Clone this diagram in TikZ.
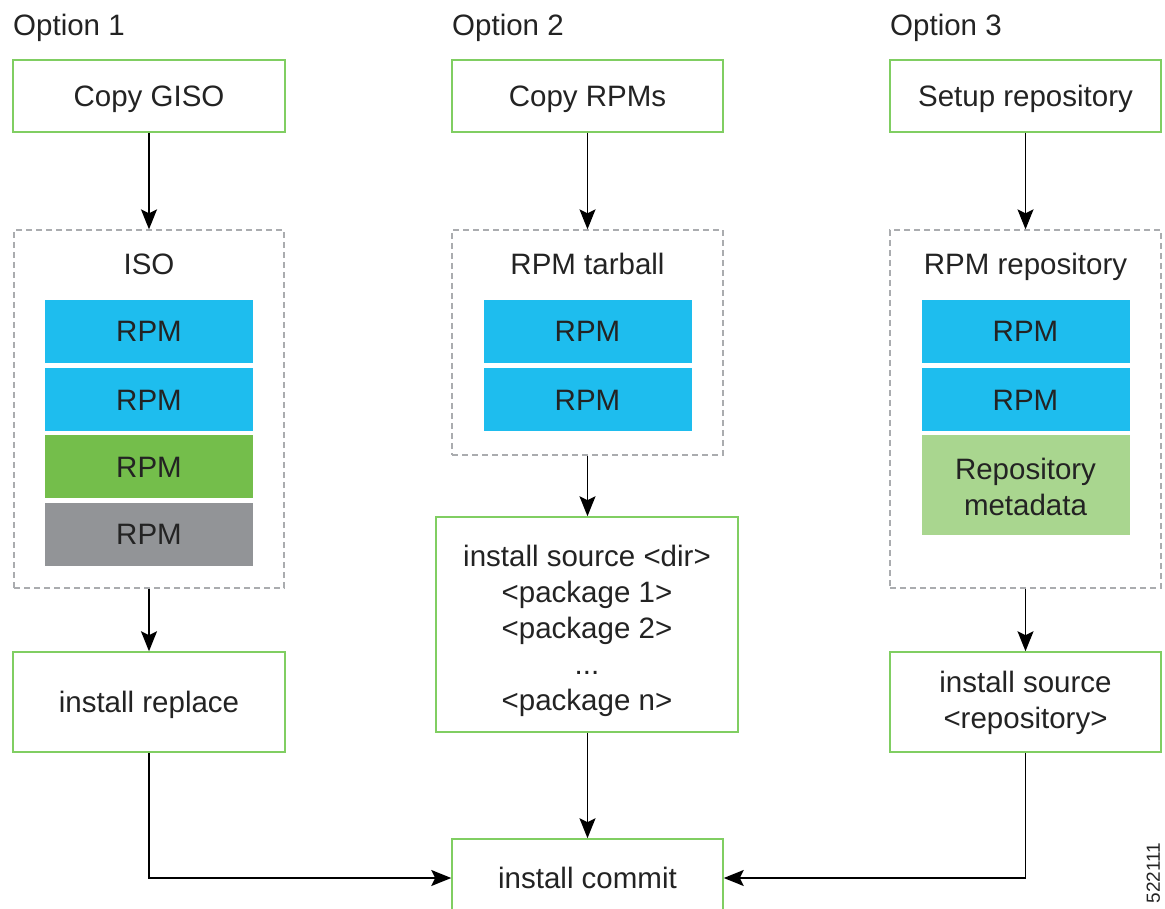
\documentclass[tikz,border=0pt]{standalone}
\usepackage{fontspec}
\setmainfont{Liberation Sans}
\usetikzlibrary{arrows.meta}
\definecolor{boxgreen}{RGB}{128,206,98}
\definecolor{rpmblue}{RGB}{30,189,238}
\definecolor{rpmgreen}{RGB}{116,190,75}
\definecolor{rpmgray}{RGB}{146,148,151}
\definecolor{metagreen}{RGB}{169,214,143}
\definecolor{dashgray}{RGB}{170,172,175}
\definecolor{txt}{RGB}{35,35,35}
\begin{document}
\begin{tikzpicture}[x=1pt,y=-1pt,
  every node/.style={inner sep=0pt, align=center, text=txt, font=\fontsize{29.5}{36}\selectfont, text height=21pt, text depth=0pt},
  stepbox/.style={draw=boxgreen, line width=1.5pt, fill=white},
  groupbox/.style={draw=dashgray, line width=1.3pt, dash pattern=on 6pt off 4pt},
  rpmbox/.style={minimum width=208pt, minimum height=63pt},
  arr/.style={-{Stealth[length=20pt,width=16pt,inset=4pt]}, line width=1.7pt, black},
  lbl/.style={anchor=base west}
]
\useasboundingbox (0,0) rectangle (1165,909);
\clip (0,0) rectangle (1165,909);

% Option labels
\node[lbl] (o1) at (13,35.5) {Option 1};
\node[lbl] (o2) at (452,35.5) {Option 2};
\node[lbl] (o3) at (890,35.5) {Option 3};

% Column 1
\node[stepbox, minimum width=272pt, minimum height=72pt] (copyg) at (149,96) {Copy GISO};
\node[groupbox, minimum width=270pt, minimum height=358pt] (iso) at (149,409) {};
\node (isolbl) at (149,264) {ISO};
\node[rpmbox, fill=rpmblue] (r11) at (149,331.5) {RPM};
\node[rpmbox, fill=rpmblue] (r12) at (149,399.5) {RPM};
\node[rpmbox, fill=rpmgreen] (r13) at (149,466.5) {RPM};
\node[rpmbox, fill=rpmgray] (r14) at (149,534) {RPM};
\node[stepbox, minimum width=272pt, minimum height=100pt] (repl) at (149,702) {install replace};

% Column 2
\node[stepbox, minimum width=271pt, minimum height=72pt] (copyr) at (587.5,96) {Copy RPMs};
\node[groupbox, minimum width=271pt, minimum height=225pt] (tar) at (587.5,342.5) {};
\node (tarlbl) at (587.5,264) {RPM tarball};
\node[rpmbox, fill=rpmblue] (r21) at (587.5,331.5) {RPM};
\node[rpmbox, fill=rpmblue] (r22) at (587.5,399.5) {RPM};
\node[stepbox, minimum width=302pt, minimum height=215pt, text height=172pt] (src) at (587,624.5)
  {install source <dir>\\ <package 1>\\ <package 2>\\ ...\\ <package n>};
\node[stepbox, minimum width=271pt, minimum height=78pt] (commit) at (587.5,878) {install commit};

% Column 3
\node[stepbox, minimum width=271pt, minimum height=72pt] (setup) at (1025.5,96) {Setup repository};
\node[groupbox, minimum width=271pt, minimum height=358pt] (repo) at (1025.5,409) {};
\node (repolbl) at (1025.5,264) {RPM repository};
\node[rpmbox, fill=rpmblue] (r31) at (1025.5,331.5) {RPM};
\node[rpmbox, fill=rpmblue] (r32) at (1025.5,399.5) {RPM};
\node[rpmbox, fill=metagreen, minimum height=100pt, text height=60pt] (meta) at (1025.5,485) {Repository\\metadata};
\node[stepbox, minimum width=271pt, minimum height=100pt, text height=52pt] (rsrc) at (1025.5,702) {install source\\<repository>};

% Figure number
\node[rotate=90, font=\fontsize{19}{22}\selectfont, text height=13.5pt] (fig) at (1153,873) {522111};

% Connectors
\draw[arr] (copyg) -- (iso);
\draw[arr] (iso) -- (repl);
\draw[arr] (copyr) -- (tar);
\draw[arr] (tar) -- (src.north -| tar.south);
\draw[arr] (setup) -- (repo);
\draw[arr] (repo) -- (rsrc);
\draw[arr] (src.south -| commit.north) -- (commit);
\draw[arr] (repl.south) |- (commit.west);
\draw[arr] (rsrc.south) |- (commit.east);
\end{tikzpicture}
\end{document}
